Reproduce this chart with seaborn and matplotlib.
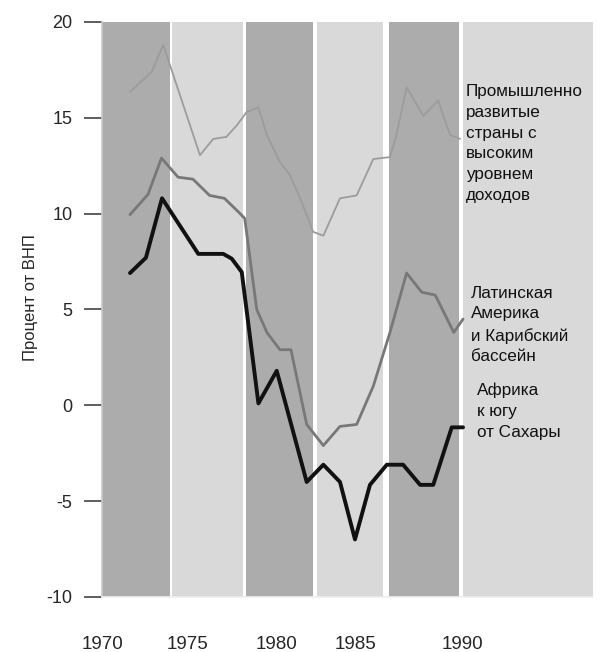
import seaborn as sns
import matplotlib.pyplot as plt
import pandas as pd

# Данные (доля ВНП, %)
africa_years = [1972.0, 1972.86, 1973.73, 1975.69, 1977.04, 1977.5, 1978.04, 1978.94, 1979.93,
                1981.55, 1982.45, 1983.35, 1984.16, 1984.97, 1985.88, 1986.76, 1987.68, 1988.39,
                1989.39, 1990.0]
africa_vals = [6.9, 7.7, 10.8, 7.9, 7.9, 7.65, 6.95, 0.1, 1.8,
               -4.0, -3.1, -4.0, -7.0, -4.15, -3.1, -3.1, -4.15, -4.15,
               -1.15, -1.15]

latam_years = [1972.0, 1972.97, 1973.7, 1974.6, 1975.4, 1976.3, 1977.1, 1977.85, 1978.2,
               1978.85, 1979.4, 1980.1, 1980.7, 1981.55, 1982.45, 1983.35, 1984.25, 1985.15,
               1986.05, 1986.95, 1987.77, 1988.5, 1989.5, 1990.0]
latam_vals = [9.95, 11.0, 12.9, 11.9, 11.8, 10.95, 10.8, 10.1, 9.75,
              5.0, 3.8, 2.9, 2.9, -1.0, -2.1, -1.1, -1.0, 1.0,
              3.8, 6.9, 5.9, 5.75, 3.8, 4.5]

ind_years = [1972.0, 1973.17, 1973.8, 1974.16, 1975.78, 1976.5, 1977.2, 1977.77, 1978.3,
             1978.94, 1979.4, 1980.1, 1980.65, 1981.2, 1981.9, 1982.45, 1983.35, 1984.25,
             1985.15, 1986.05, 1986.4, 1986.95, 1987.85, 1988.65, 1989.3, 1989.84]
ind_vals = [16.35, 17.4, 18.8, 17.75, 13.05, 13.9, 14.0, 14.6, 15.3,
            15.55, 14.1, 12.7, 12.0, 10.8, 9.05, 8.85, 10.8, 10.95,
            12.85, 12.95, 14.1, 16.6, 15.1, 15.9, 14.1, 13.9]

# затенённые периоды (тёмный / светлый)
band_starts = [1970.5, 1974.27, 1978.27, 1982.1, 1986.0, 1990.0]
band_ends = [1974.16, 1978.1, 1981.9, 1985.7, 1989.8, 1997.0]
band_dark = [True, False, True, False, True, False]

year_labels = ["1970", "1975", "1980", "1985", "1990"]
year_label_pos = [1970.5, 1975.1, 1979.9, 1984.2, 1989.95]

sns.set_theme(style="white")
plt.rcParams["font.family"] = ["Liberation Sans", "DejaVu Sans"]

fig = plt.figure(figsize=(6, 6.52), dpi=100)
ax = fig.add_axes([0.1695, 0.0844, 0.819, 0.8819])

for s, e, d in zip(band_starts, band_ends, band_dark):
    ax.axvspan(s, e, color="#acacac" if d else "#d9d9d9", lw=0, zorder=0)

ind = pd.DataFrame({"year": ind_years, "val": ind_vals})
lat = pd.DataFrame({"year": latam_years, "val": latam_vals})
afr = pd.DataFrame({"year": africa_years, "val": africa_vals})

sns.lineplot(data=ind, x="year", y="val", sort=False, estimator=None,
             color="#9c9c9c", lw=1.3, ax=ax)
sns.lineplot(data=lat, x="year", y="val", sort=False, estimator=None,
             color="#787878", lw=2.0, ax=ax)
sns.lineplot(data=afr, x="year", y="val", sort=False, estimator=None,
             color="#111111", lw=2.8, ax=ax)

ax.set_xlim(1970.47, 1997.03)
ax.set_ylim(-10, 20)
ax.set_yticks([-10, -5, 0, 5, 10, 15, 20])
ax.set_yticklabels(["-10", "-5", "0", "5", "10", "15", "20"], fontsize=13)
ax.set_xticks(year_label_pos, year_labels, fontsize=13.5)
ax.tick_params(axis="y", left=True, length=13, width=1.1, color="#333333", pad=8)
ax.tick_params(axis="x", bottom=False, length=0, pad=28)

ax.set_xlabel("")
ax.set_ylabel("Процент от ВНП", fontsize=12)
ax.yaxis.set_label_coords(-0.13, 0.52)

for sp in ["top", "right"]:
    ax.spines[sp].set_visible(False)
ax.spines["left"].set_color("#c8c8c8")
ax.spines["bottom"].set_color("#eeeeee")

txt = dict(fontsize=12.3, va="center", ha="left", linespacing=1.48, color="#111111")
ax.text(1990.16, 13.66, "Промышленно\nразвитые\nстраны с\nвысоким\nуровнем\nдоходов", **txt)
ax.text(1990.43, 4.19, "Латинская\nАмерика\nи Карибский\nбассейн", **txt)
ax.text(1990.76, -0.3, "Африка\nк югу\nот Сахары", **txt)

fig.savefig("out.png", dpi=100)
